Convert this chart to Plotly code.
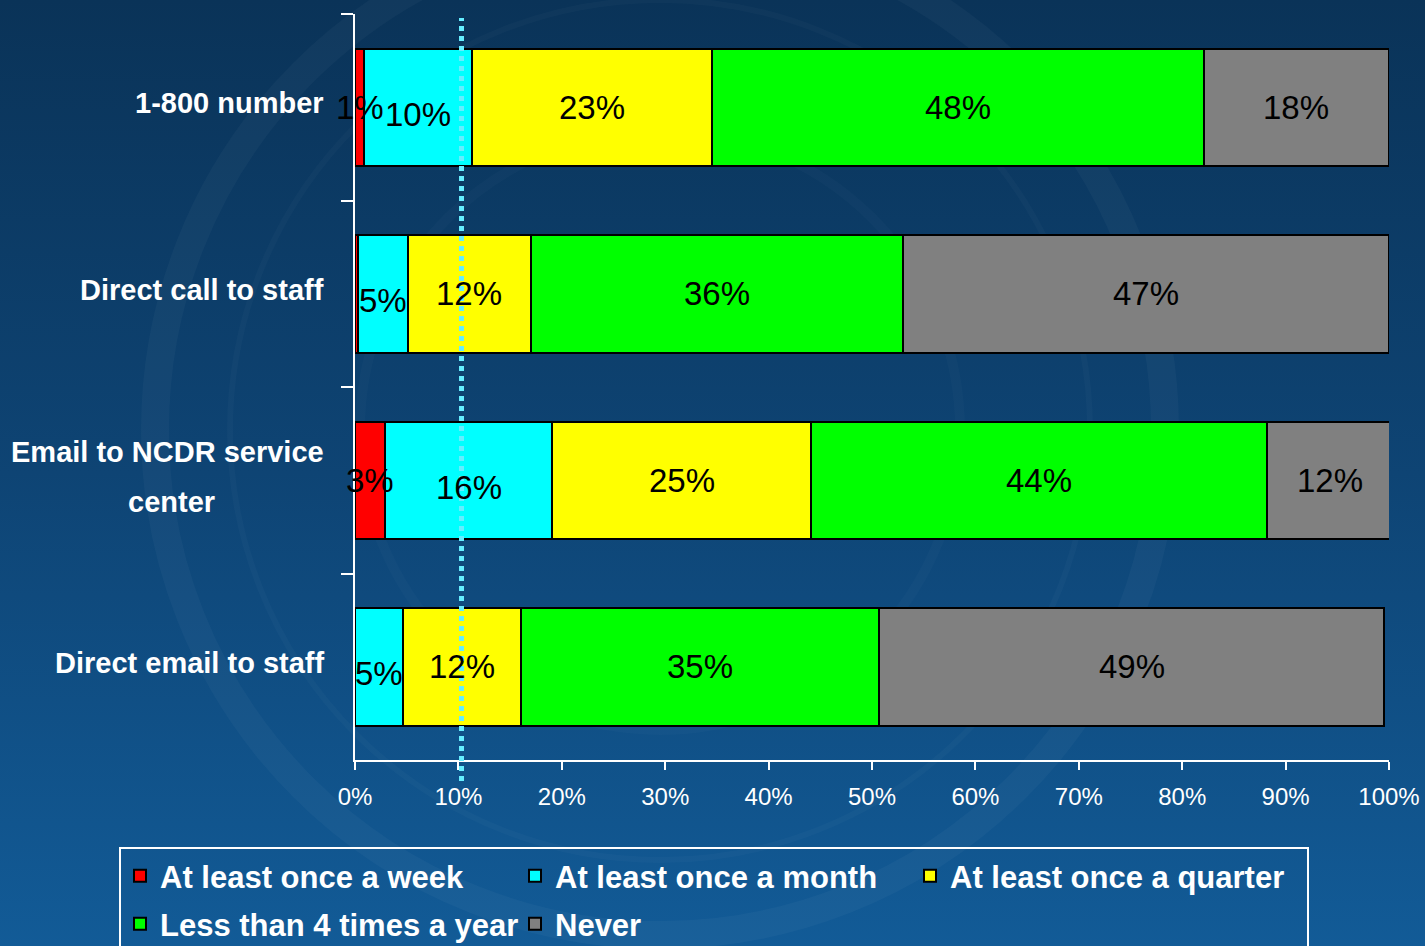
import base64
import plotly.graph_objects as go

# ---------------- data ----------------
categories = ["1-800 number", "Direct call to staff",
              "Email to NCDR service center", "Direct email to staff"]
# category label lines as they are shown (the third one wraps)
category_lines = [["1-800 number"], ["Direct call to staff"],
                  ["Email to NCDR service", "center"], ["Direct email to staff"]]

series_names = ["At least once a week", "At least once a month",
                "At least once a quarter", "Less than 4 times a year", "Never"]
week = [0.9, 0.3, 2.9, 0.0]
month = [10.4, 4.8, 16.2, 4.6]
quarter = [23.2, 11.9, 25.0, 11.5]
less4 = [47.6, 36.0, 44.1, 34.6]
never = [17.9, 47.0, 12.1, 48.8]
series_values = [week, month, quarter, less4, never]
series_colors = ["#ff0000", "#00ffff", "#ffff00", "#00ff00", "#808080"]
label_yshift = [0, -7, 0, 0, 0]  # the month labels sit a little low in the original

x_ticks = [0, 10, 20, 30, 40, 50, 60, 70, 80, 90, 100]
reference_pct = 10.3  # dotted reference line

# ---------------- layout geometry ----------------
W, H = 1425, 946
ML, MR, MT, MB = 355, 36, 14, 186
PW, PH = W - ML - MR, H - MT - MB


def px_x(px):
    return (px - ML) / PW


def px_y(py):
    return (H - MB - py) / PH


bold_font = "Liberation Sans, Arial, Helvetica, sans-serif"
regular = "Liberation Sans, Arial, Helvetica, sans-serif"

# background gradient with faint seal rings (svg data uri)
svg = f"""<svg xmlns='http://www.w3.org/2000/svg' width='{W}' height='{H}' viewBox='0 0 {W} {H}' preserveAspectRatio='none'>
<defs><linearGradient id='g' x1='0' y1='0' x2='0' y2='1'>
<stop offset='0' stop-color='#0a3358'/><stop offset='0.5' stop-color='#0e4474'/><stop offset='1' stop-color='#125b97'/>
</linearGradient></defs>
<rect width='{W}' height='{H}' fill='url(#g)'/>
<circle cx='660' cy='430' r='505' fill='none' stroke='rgba(255,255,255,0.03)' stroke-width='28'/>
<circle cx='660' cy='430' r='430' fill='none' stroke='rgba(255,255,255,0.025)' stroke-width='6'/>
<circle cx='660' cy='430' r='300' fill='none' stroke='rgba(255,255,255,0.02)' stroke-width='10'/>
</svg>"""
svg_uri = "data:image/svg+xml;base64," + base64.b64encode(svg.encode()).decode()

fig = go.Figure()
for i, (name, vals, col) in enumerate(zip(series_names, series_values, series_colors)):
    fig.add_trace(go.Bar(
        y=categories, x=vals, name=name, orientation="h",
        marker=dict(color=col, line=dict(color="black", width=2)),
        cliponaxis=False, hoverinfo="skip",
        legend="legend" if i < 3 else "legend2",
    ))

annotations = []
# value labels drawn on top of all bars, centred in each segment
for ci, cat in enumerate(categories):
    start = 0.0
    for si, vals in enumerate(series_values):
        v = vals[ci]
        if v >= 0.5:
            annotations.append(dict(
                x=start + v / 2, xref="x", y=cat, yref="y", text=f"{v:.0f}%",
                showarrow=False, xanchor="center", yanchor="middle",
                yshift=label_yshift[si],
                font=dict(family=regular, size=33, color="black"),
            ))
        start += v

for cat, lines in zip(categories, category_lines):
    if len(lines) == 1:
        annotations.append(dict(
            x=0, xref="paper", y=cat, yref="y", xanchor="right", yanchor="middle",
            xshift=-29, yshift=4, text=lines[0], showarrow=False,
            font=dict(family=bold_font, size=29, color="white", weight="bold"),
        ))
    else:
        annotations.append(dict(
            x=0, xref="paper", y=cat, yref="y", xanchor="right", yanchor="middle",
            xshift=-29, yshift=28, text=lines[0], showarrow=False,
            font=dict(family=bold_font, size=29, color="white", weight="bold"),
        ))
        annotations.append(dict(
            x=0, xref="paper", y=cat, yref="y", xanchor="center", yanchor="middle",
            xshift=-(ML - 171), yshift=-22, text=lines[1], showarrow=False,
            font=dict(family=bold_font, size=29, color="white", weight="bold"),
        ))

shapes = [
    dict(type="line", xref="x", yref="paper", x0=reference_pct, x1=reference_pct,
         y0=px_y(781), y1=px_y(18), line=dict(color="#66eeff", width=5, dash="5px,5px"),
         layer="above"),
    dict(type="rect", xref="paper", yref="paper", x0=px_x(120), x1=px_x(1308),
         y0=px_y(960), y1=px_y(848), line=dict(color="white", width=2),
         fillcolor="rgba(0,0,0,0)", layer="above"),
]

legend_common = dict(
    orientation="h", xanchor="left", yanchor="middle",
    bgcolor="rgba(0,0,0,0)", borderwidth=0,
    font=dict(family=bold_font, size=31, color="white", weight="bold"),
    entrywidth=350, entrywidthmode="pixels", traceorder="normal",
)

fig.update_layout(
    width=W, height=H,
    margin=dict(l=ML, r=MR, t=MT, b=MB, pad=0, autoexpand=False),
    barmode="stack", bargap=0.37,
    paper_bgcolor="#0e4474", plot_bgcolor="rgba(0,0,0,0)",
    images=[dict(source=svg_uri, xref="paper", yref="paper",
                 x=px_x(0), y=px_y(0), sizex=W / PW, sizey=H / PH,
                 xanchor="left", yanchor="top", sizing="stretch", layer="below")],
    xaxis=dict(range=[0, 100], tickvals=x_ticks, ticktext=[f"{t}%" for t in x_ticks],
               showgrid=False, zeroline=False, showline=True, linecolor="white",
               linewidth=2, ticks="outside", ticklen=8, tickwidth=2, tickcolor="white",
               ticklabelstandoff=6,
               tickfont=dict(family=regular, size=24, color="white")),
    yaxis=dict(autorange="reversed", showgrid=False, zeroline=False, showline=True,
               linecolor="white", linewidth=2, ticks="outside", tickson="boundaries",
               ticklen=12, tickwidth=2, tickcolor="white", showticklabels=False),
    legend=dict(x=px_x(120), y=px_y(876), **legend_common),
    legend2=dict(x=px_x(120), y=px_y(924), **legend_common),
    annotations=annotations,
    shapes=shapes,
    showlegend=True,
)

fig.write_html("out.html", config={"displayModeBar": False},
               post_script="document.body.style.margin='0';")
